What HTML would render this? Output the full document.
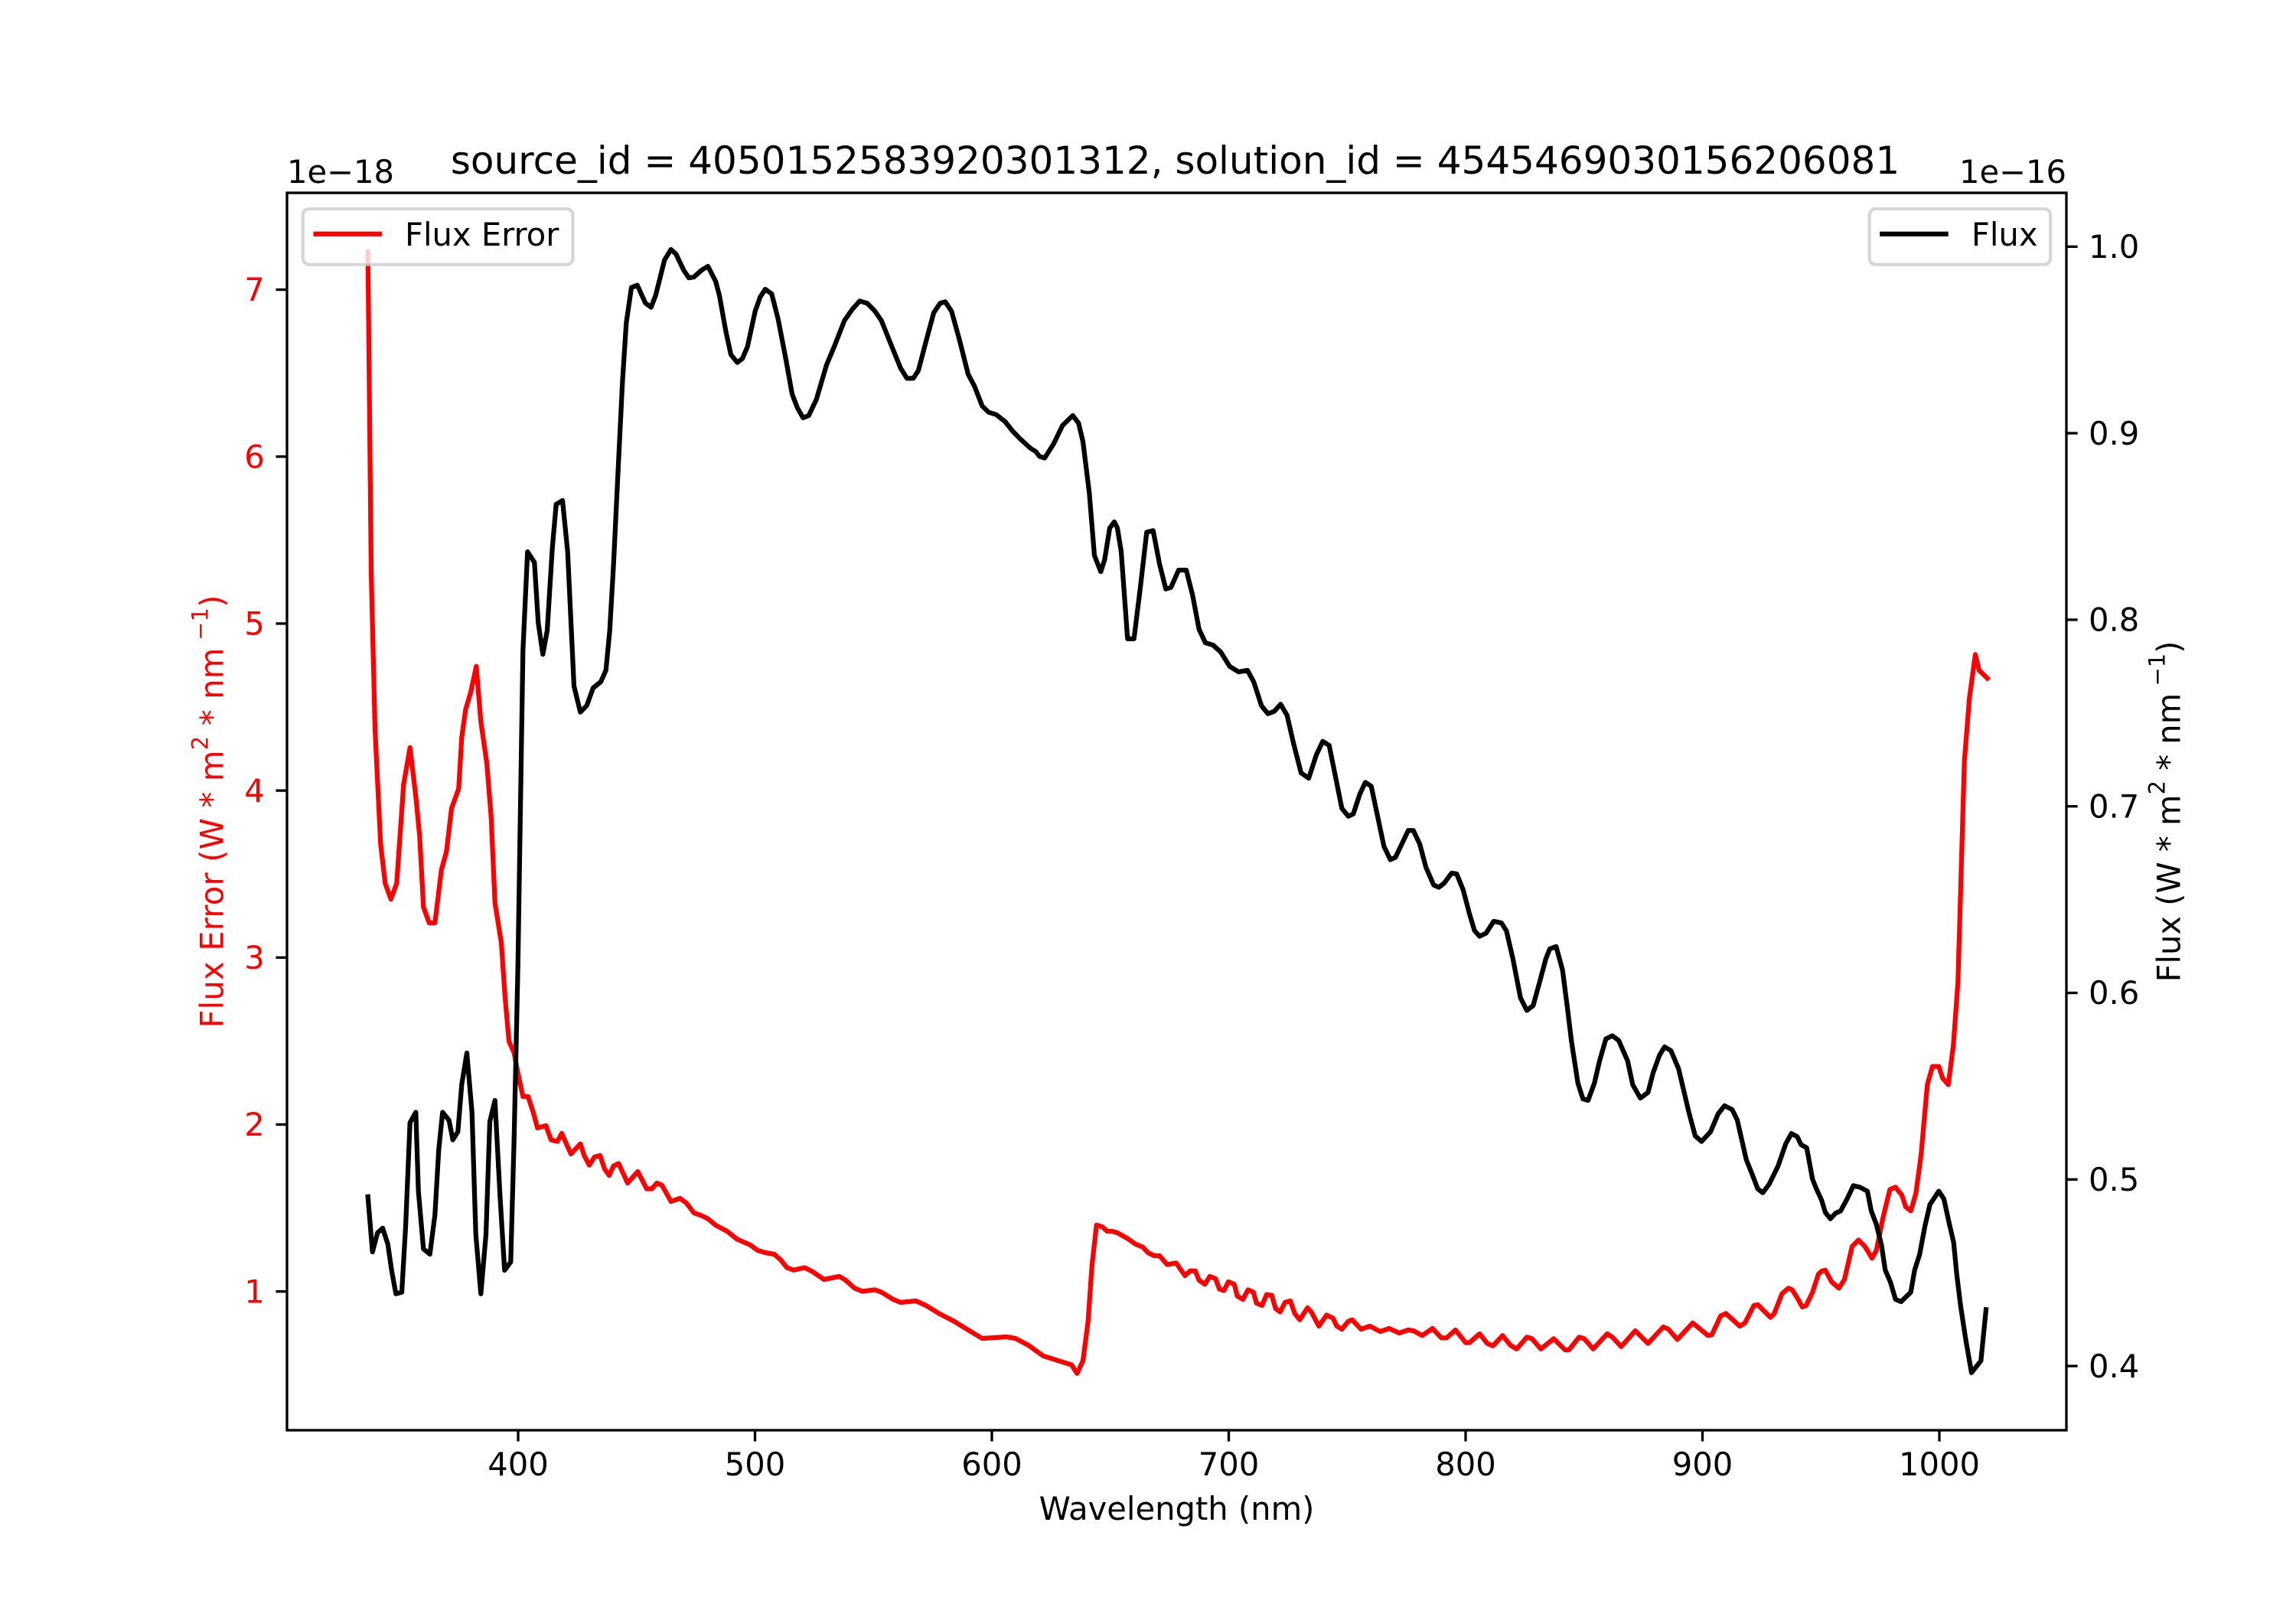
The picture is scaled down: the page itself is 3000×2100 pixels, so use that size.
<!DOCTYPE html>
<html>
<head>
<meta charset="utf-8">
<style>
html,body{margin:0;padding:0;background:#ffffff;}
svg{display:block;}
</style>
</head>
<body>
<svg width="3000" height="2100" viewBox="0 0 3000 2100" xmlns="http://www.w3.org/2000/svg" font-family="'DejaVu Sans', 'Liberation Sans', sans-serif">
<rect x="0" y="0" width="3000" height="2100" fill="#ffffff"/>

<!-- Flux Error (red) series -->
<polyline fill="none" stroke="#ff0000" stroke-width="6.25" stroke-linejoin="round" stroke-linecap="square" points="
480.7,329.3 485,747 490,953 497.3,1103 503.3,1154.4 510.7,1175 518.3,1154.4 527.3,1025.5 535.7,977 543.3,1041 548.3,1092.5 553.3,1185.3 560.7,1206 568.3,1206 576.7,1137 583.3,1113 590,1056.4 599.3,1030.6 603.3,963.6 608.3,927.5 615,904.8 622.3,870.8 628.3,943 636,997 641.7,1066.7 646.7,1180 655,1231.8 660,1304 665,1360.6 671.7,1376 676.7,1402 683.3,1433 690,1433 696.7,1453.5 702.3,1474 713.3,1471 720,1489.5 728.3,1491.6 734,1481 740,1494.7 746,1508 758.3,1494.7 763.3,1510 770,1522.6 776.7,1512 784,1510 790,1527.7 796,1536 801.7,1523.6 808.3,1520.5 820,1546 833.3,1531 845,1553.5 851.7,1553.5 858.3,1546 865,1549 876.7,1570 888.3,1566 896.7,1572 906.7,1585 916.7,1588.6 925,1592.7 935,1601 950,1609 963.3,1619.5 980,1626.7 990,1634 1000,1637 1011.7,1639 1020,1646.3 1028.3,1656.6 1036.7,1659.7 1051.7,1656.6 1061.7,1661.8 1076.7,1672 1086.7,1670 1096.7,1668 1105,1673 1116.7,1683.4 1126.7,1687.5 1143.3,1685.5 1151.7,1688.6 1166.7,1697.9 1176.7,1702 1196.7,1700 1210,1706 1226.7,1716.4 1246.7,1726.7 1266.7,1739 1283.3,1749 1300,1748 1315,1747 1326.7,1749 1343.3,1757.7 1363.3,1772 1383.3,1778.3 1400,1783.5 1407.3,1794.8 1415,1778.3 1421.7,1726.7 1426.7,1654.6 1432.7,1601 1440,1603 1446.7,1609 1453.3,1609 1460,1611 1473.3,1618.5 1483.3,1625.6 1493.3,1629.8 1500,1637 1508.3,1641 1515,1641 1525,1652.5 1536.7,1650.4 1548.3,1667 1555,1660.8 1561.7,1660.8 1566.7,1673 1574.3,1678.3 1580.7,1668 1588.3,1671 1593.3,1684.5 1599.3,1686.5 1605,1675 1612.7,1678.3 1616.7,1693.8 1624,1698 1630.7,1685.5 1637.7,1688.6 1641.7,1703 1649,1706 1655,1691.7 1661.7,1692.7 1666.7,1710 1672.7,1714.4 1679,1702 1686,1700 1691.7,1716.4 1698.3,1724.7 1708.3,1709 1713.3,1714.4 1723.3,1733 1733.3,1718.5 1741.7,1722.6 1746.7,1733 1753.3,1737 1761.7,1726.7 1766.7,1724.7 1778.3,1737 1790,1733 1803.3,1740 1815,1736 1828.3,1742 1840,1738 1846.7,1739 1858.3,1745.3 1871.7,1736 1883.3,1748.4 1890,1748.4 1901.7,1738 1915,1754.6 1920,1754.6 1933.3,1743 1943.3,1755.6 1950.7,1758.7 1963.3,1745.3 1973.3,1757.7 1981.7,1762.8 1995,1747.4 2001.7,1749.4 2013.3,1762.8 2030,1749.4 2045,1764 2050,1764 2063.3,1747.4 2070,1749.4 2081.7,1762.8 2100,1743 2106.7,1747.4 2118.3,1759.7 2136.7,1739 2153.3,1755.6 2173.3,1734 2180,1737 2191.7,1750.4 2211.7,1728.8 2231.7,1745.3 2236.7,1744.3 2248.3,1719.6 2255,1716.4 2273.3,1733 2280,1728.8 2291.7,1706 2296.7,1705 2313.3,1721.6 2318.3,1716.4 2328.3,1690.7 2336.7,1683.4 2341.7,1685.5 2348.3,1696 2355,1708 2360,1706 2368.3,1688.6 2376,1665 2380,1661.3 2385,1659.8 2393.3,1675.2 2402.7,1683.4 2410,1672 2420,1628.8 2428.3,1620.5 2436.7,1628.8 2446,1644.2 2451.7,1634 2460,1592.7 2469.3,1554.5 2476.7,1551.4 2485,1561.8 2490,1577.2 2496.7,1582.4 2503.3,1559.7 2510,1510 2518.3,1417.4 2525,1393.6 2533.3,1393.6 2538.3,1409 2545.7,1417.4 2552.3,1365.8 2558.3,1283.3 2566.7,994.5 2573.3,912 2581,855.3 2586,876 2596.7,886.3"/>

<!-- Legend (Flux Error) -->
<rect x="395.8" y="272.8" width="352.7" height="72.9" rx="8.3" ry="8.3" fill="#ffffff" fill-opacity="0.8" stroke="#cccccc" stroke-opacity="0.8" stroke-width="4.17"/>
<line x1="412.5" y1="305.7" x2="495.8" y2="305.7" stroke="#ff0000" stroke-width="6.25" stroke-linecap="square"/>
<text x="529" y="321" font-size="41.67" fill="#000000">Flux Error</text>

<!-- Flux (black) series -->
<polyline fill="none" stroke="#000000" stroke-width="6.25" stroke-linejoin="round" stroke-linecap="square" points="
480.7,1563.8 486.7,1636 493.3,1611 500,1605 506.7,1625.6 511.7,1660 517.3,1690.7 525,1688.6 530,1603 535.7,1467 543.3,1453.5 546.7,1556.6 553.3,1632 561.7,1639 568.3,1587.5 573.3,1502 578.3,1453.5 586.7,1464 591.7,1489.5 598.3,1479 603.3,1417.4 610,1376 616.7,1453.5 621.7,1613 628.3,1690.7 635,1613 640,1466 646.7,1438 653.3,1562 659.3,1660 667.3,1649 671.7,1489.5 676.7,1263 683.3,850 689.3,721 698.3,735 703.3,814 709.3,855 715,824 721.7,716 726.7,659 735,654 741.7,721 750,896.5 758.3,930.6 766.7,922 775,899 785,891 791.7,876 796.7,824 801.7,737 806.7,633.6 813.3,499.5 818.3,422 825,375.8 832.7,372.7 843.3,396 850.7,401.5 856.7,386 868.3,339.7 876.7,326 883.3,332 893.3,353 900,363 906.7,362 916.7,353 925,348 935,367.5 940,386 948.3,432.5 955,463.4 963.3,473.7 970,468.6 976.7,453 986.7,406.7 993.3,388 1000,378 1008.3,384 1016.7,417 1026.7,468.6 1035,515 1041.7,532.5 1049.3,546 1056.7,543 1066.7,522 1080,476.8 1090,453 1103.3,419 1113.3,404.6 1123.3,393.3 1133.3,396.4 1143.3,406.7 1151.7,419 1163.3,448 1176.7,481 1185,494.4 1193.3,494.4 1200,484 1210,446 1220,408.8 1228.3,396.4 1235,394.3 1243.3,406.7 1253.3,442.8 1265,489 1273.3,504.7 1283.3,530.5 1291.7,538.7 1301.7,541.8 1313.3,551 1323.3,563.5 1333.3,573.8 1346.7,586 1353.3,590 1358.3,596.5 1365,598.5 1376.7,580 1388.3,556 1401.7,543 1409.3,553 1415,577 1423.3,644 1430,726 1438.3,747 1443.3,731.6 1450,690 1456,682 1460,690 1465,721 1473.3,834.7 1481.7,834.7 1490,767.6 1498.3,695.5 1506.7,693.4 1515,736.7 1523.3,769.7 1530,767.6 1540,745 1550,745 1558.3,778 1566.7,822.3 1575,840 1585,843 1595,852 1606.7,870.8 1618.3,878 1630,876 1638.3,891.4 1648.3,922.3 1656.7,932.7 1665,929.6 1673.3,920.3 1681.7,934.7 1690,970.8 1700,1010 1710,1017 1720,986.3 1728.3,968.8 1736.7,974 1745,1015 1753.3,1056.4 1761.7,1066.7 1768.3,1063.6 1776.7,1037.8 1784,1022.4 1791.7,1027.5 1800,1066.7 1808.3,1106 1816.7,1123.4 1823.3,1120.4 1831.7,1102.8 1840,1085.3 1846.7,1085.3 1855,1102.8 1863.3,1133.8 1873.3,1156.5 1880,1159.5 1886.7,1154.4 1896.7,1141 1903.3,1142 1911.7,1162.6 1920,1194 1926.7,1216.3 1933.3,1223.5 1941.7,1219.4 1951.7,1204 1961.7,1206 1968.3,1216.3 1976.7,1252.4 1986.7,1304 1995,1320.4 2003.3,1314 2011.7,1283.3 2020,1252.4 2025,1240 2033.3,1237 2041.7,1268 2048.3,1319.4 2053.3,1360.6 2061.7,1415.3 2068.3,1436 2075,1438 2083.3,1415.3 2090,1386.4 2098.3,1357.6 2106.7,1353.5 2115,1359.6 2126.7,1386.4 2133.3,1417.4 2143.3,1435 2153.3,1427.6 2160,1402 2168.3,1379 2175,1368 2183.3,1373 2193.3,1396.7 2206.7,1453.5 2215,1484.4 2223.3,1491.6 2235,1479 2245,1455.5 2253.3,1445 2263.3,1450 2270,1463.8 2281.7,1515.3 2290,1536 2296.7,1553.5 2303.3,1558.7 2311.7,1547.3 2323.3,1523.6 2333.3,1494.7 2340.7,1481.3 2348.3,1485.4 2353.3,1495.8 2360.7,1500 2368.3,1541 2373.3,1553.5 2380,1568 2385,1584.4 2391.7,1592.7 2398.3,1585.5 2405,1582.4 2413.3,1567 2421.7,1549.4 2430,1551.4 2440,1556.6 2445,1582.4 2451.7,1600 2458.3,1626.7 2463.3,1659.7 2470,1675.2 2476.7,1698 2484,1701 2496.7,1688.6 2501.7,1659.7 2508.3,1639 2515,1603 2521.7,1574 2533.3,1556.6 2540,1567 2546.7,1597.8 2552.7,1623.7 2556.7,1665 2561.7,1706 2568.3,1749.4 2576,1793.8 2581.7,1786.6 2588.3,1778.3 2595,1711.3"/>

<!-- Axes frame -->
<rect x="375" y="252" width="2325" height="1617" fill="none" stroke="#000000" stroke-width="3.33"/>

<!-- X ticks -->
<g stroke="#000000" stroke-width="3.33">
<line x1="677" y1="1869" x2="677" y2="1883.6"/>
<line x1="986.5" y1="1869" x2="986.5" y2="1883.6"/>
<line x1="1296" y1="1869" x2="1296" y2="1883.6"/>
<line x1="1605.5" y1="1869" x2="1605.5" y2="1883.6"/>
<line x1="1915" y1="1869" x2="1915" y2="1883.6"/>
<line x1="2224.5" y1="1869" x2="2224.5" y2="1883.6"/>
<line x1="2534" y1="1869" x2="2534" y2="1883.6"/>
</g>
<g font-size="41.67" fill="#000000" text-anchor="middle">
<text x="677" y="1928">400</text>
<text x="986.5" y="1928">500</text>
<text x="1296" y="1928">600</text>
<text x="1605.5" y="1928">700</text>
<text x="1915" y="1928">800</text>
<text x="2224.5" y="1928">900</text>
<text x="2534" y="1928">1000</text>
</g>
<text x="1537.5" y="1986" font-size="41.67" fill="#000000" text-anchor="middle">Wavelength (nm)</text>

<!-- Left Y ticks (red labels) -->
<g stroke="#000000" stroke-width="3.33">
<line x1="375" y1="378.5" x2="360.4" y2="378.5"/>
<line x1="375" y1="596.7" x2="360.4" y2="596.7"/>
<line x1="375" y1="814.9" x2="360.4" y2="814.9"/>
<line x1="375" y1="1033.1" x2="360.4" y2="1033.1"/>
<line x1="375" y1="1251.3" x2="360.4" y2="1251.3"/>
<line x1="375" y1="1469.5" x2="360.4" y2="1469.5"/>
<line x1="375" y1="1687.7" x2="360.4" y2="1687.7"/>
</g>
<g font-size="41.67" fill="#ff0000" text-anchor="end">
<text x="345.8" y="393.2">7</text>
<text x="345.8" y="611.4">6</text>
<text x="345.8" y="829.6">5</text>
<text x="345.8" y="1047.8">4</text>
<text x="345.8" y="1266">3</text>
<text x="345.8" y="1484.2">2</text>
<text x="345.8" y="1702.4">1</text>
</g>
<text x="375" y="239" font-size="41.67" fill="#000000">1e−18</text>
<text transform="translate(291.7,1060.5) rotate(-90)" font-size="41.67" fill="#ff0000" text-anchor="middle" textLength="566" lengthAdjust="spacing">Flux Error (W * m<tspan dy="-20" font-size="29">2</tspan><tspan dy="20"> * nm</tspan><tspan dy="-20" font-size="29"> −1</tspan><tspan dy="20">)</tspan></text>

<!-- Right Y ticks -->
<g stroke="#000000" stroke-width="3.33">
<line x1="2700" y1="322.3" x2="2714.6" y2="322.3"/>
<line x1="2700" y1="566.1" x2="2714.6" y2="566.1"/>
<line x1="2700" y1="809.9" x2="2714.6" y2="809.9"/>
<line x1="2700" y1="1053.7" x2="2714.6" y2="1053.7"/>
<line x1="2700" y1="1297.5" x2="2714.6" y2="1297.5"/>
<line x1="2700" y1="1541.3" x2="2714.6" y2="1541.3"/>
<line x1="2700" y1="1785.1" x2="2714.6" y2="1785.1"/>
</g>
<g font-size="41.67" fill="#000000" text-anchor="start">
<text x="2729" y="337">1.0</text>
<text x="2729" y="580.8">0.9</text>
<text x="2729" y="824.6">0.8</text>
<text x="2729" y="1068.4">0.7</text>
<text x="2729" y="1312.2">0.6</text>
<text x="2729" y="1556">0.5</text>
<text x="2729" y="1799.8">0.4</text>
</g>
<text x="2700" y="239" font-size="41.67" fill="#000000" text-anchor="end">1e−16</text>
<text transform="translate(2848.3,1060.5) rotate(-90)" font-size="41.67" fill="#000000" text-anchor="middle" textLength="446" lengthAdjust="spacing">Flux (W * m<tspan dy="-20" font-size="29">2</tspan><tspan dy="20"> * nm</tspan><tspan dy="-20" font-size="29"> −1</tspan><tspan dy="20">)</tspan></text>

<!-- Legend (Flux) -->
<rect x="2442.6" y="272.8" width="236.6" height="72.9" rx="8.3" ry="8.3" fill="#ffffff" fill-opacity="0.8" stroke="#cccccc" stroke-opacity="0.8" stroke-width="4.17"/>
<line x1="2459.3" y1="305.7" x2="2542.6" y2="305.7" stroke="#000000" stroke-width="6.25" stroke-linecap="square"/>
<text x="2575.9" y="321" font-size="41.67" fill="#000000">Flux</text>

<!-- Title -->
<text x="1535.5" y="227" font-size="50" fill="#000000" text-anchor="middle">source_id = 4050152583920301312, solution_id = 4545469030156206081</text>
</svg>
</body>
</html>
